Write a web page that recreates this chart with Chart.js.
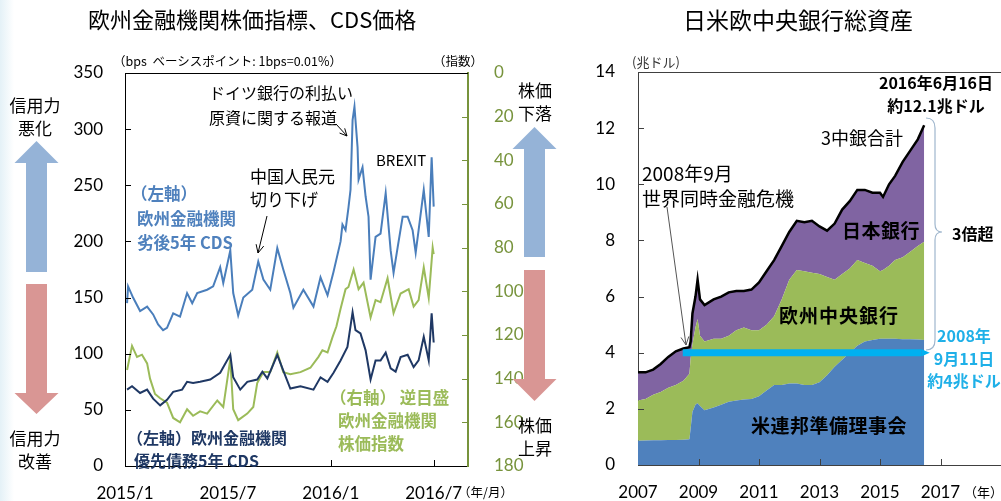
<!DOCTYPE html>
<html>
<head>
<meta charset="utf-8">
<script src="https://cdn.jsdelivr.net/npm/chart.js@4.4.1/dist/chart.umd.min.js"></script>
<style>
body { margin:0; background:#fff; width:1001px; height:501px; overflow:hidden; position:relative;
       font-family:"Noto Sans CJK JP", sans-serif; color:#000; }
canvas { position:absolute; top:0; }
#edge { position:absolute; left:0; top:0; width:14px; height:501px; background:linear-gradient(to right,#e4f1f7,#fff); }
.t { position:absolute; white-space:nowrap; line-height:1; }
.b { font-weight:bold; }
</style>
</head>
<body>
<div id="edge"></div>
<canvas id="left" width="570" height="501" style="left:0"></canvas>
<canvas id="right" width="431" height="501" style="left:570px"></canvas>

<!-- left panel texts -->
<div class="t" style="left:88px;top:7px;font-size:22px">欧州金融機関株価指標、CDS価格</div>
<div class="t" style="left:113px;top:55px;font-size:12.5px">（bps&nbsp; ベーシスポイント: 1bps=0.01%）</div>
<div class="t" style="left:433px;top:55px;font-size:12.5px">（指数）</div>
<div class="t" style="left:6px;top:93px;width:58px;text-align:center;font-size:17px;line-height:23px">信用力<br>悪化</div>
<div class="t" style="left:6px;top:426px;width:58px;text-align:center;font-size:17px;line-height:23px">信用力<br>改善</div>
<div class="t" style="left:506px;top:78px;width:58px;text-align:center;font-size:17px;line-height:23px">株価<br>下落</div>
<div class="t" style="left:506px;top:413px;width:58px;text-align:center;font-size:17px;line-height:23px">株価<br>上昇</div>
<div class="t" style="left:209px;top:80px;font-size:16px;line-height:25px">ドイツ銀行の利払い<br>原資に関する報道</div>
<div class="t" style="left:376px;top:152px;font-size:15px">BREXIT</div>
<div class="t" style="left:250px;top:164px;font-size:17px;line-height:23px">中国人民元<br>切り下げ</div>
<div class="t b" style="left:131px;top:181px;font-size:16.5px;line-height:24.5px;color:#4f81bd">（左軸）<br><span style="margin-left:6px">欧州金融機関</span><br><span style="margin-left:6px">劣後5年 CDS</span></div>
<div class="t b" style="left:330px;top:386px;font-size:16.5px;line-height:23px;color:#9bbb59">（右軸） 逆目盛<br><span style="margin-left:8px">欧州金融機関</span><br><span style="margin-left:8px">株価指数</span></div>
<div class="t b" style="left:127px;top:426px;font-size:16px;line-height:23px;color:#1f3864">（左軸）欧州金融機関<br><span style="margin-left:7px">優先債務5年 CDS</span></div>
<div class="t" style="left:458px;top:486px;font-size:12.5px">（年/月）</div>

<!-- right panel texts -->
<div class="t" style="left:683px;top:8px;font-size:23px">日米欧中央銀行総資産</div>
<div class="t" style="left:632px;top:55px;font-size:13px;color:#333">(兆ドル)</div>
<div class="t b" style="left:872px;top:71px;width:128px;text-align:center;font-size:16px;line-height:23px">2016年6月16日<br>約12.1兆ドル</div>
<div class="t" style="left:821px;top:128px;font-size:18px">3中銀合計</div>
<div class="t" style="left:642px;top:160px;font-size:19px;line-height:25px">2008年9月<br>世界同時金融危機</div>
<div class="t b" style="left:842px;top:220px;font-size:19px;letter-spacing:0.5px">日本銀行</div>
<div class="t b" style="left:779px;top:305px;font-size:19px;letter-spacing:1px">欧州中央銀行</div>
<div class="t b" style="left:751px;top:415px;font-size:19px;letter-spacing:0.5px">米連邦準備理事会</div>
<div class="t b" style="left:952px;top:225px;font-size:16px">3倍超</div>
<div class="t b" style="left:924px;top:324px;width:80px;text-align:center;font-size:16px;line-height:22.5px;color:#1fb0e8">2008年<br>9月11日<br>約4兆ドル</div>
<div class="t" style="left:964px;top:485px;font-size:13px">（年）</div>

<script>
// ---- left chart: x = months since 2015/1 ----
const leftTickMonths = [0, 6, 12, 18];
const leftTickLabels = ["2015/1", "2015/7", "2016/1", "2016/7"];

// (左軸) 劣後5年 CDS, bps
const subX = [0.12, 0.18, 0.47, 0.88, 1.29, 1.64, 1.93, 2.22, 2.45, 2.81, 3.21, 3.62, 3.92, 4.21, 4.79, 5.14, 5.55, 5.73, 6.14, 6.31,
              6.60, 6.90, 7.42, 7.77, 8.07, 8.47, 8.88, 9.23, 9.64, 9.82, 10.40, 10.99, 11.40, 11.81, 12.16, 12.57, 12.68, 12.86, 13.03, 13.15,
              13.27, 13.38, 13.56, 13.62, 13.85, 14.03, 14.20, 14.32, 14.61, 14.90, 15.20, 15.49, 15.66, 15.90, 16.19, 16.48, 16.77, 16.95, 17.12, 17.42,
              17.71, 17.88, 18.00];
const subY = [145, 160, 150, 138, 142, 135, 126, 121, 123, 136, 133, 154, 145, 154, 157, 160, 177, 163, 192, 154,
              134, 150, 157, 182, 166, 157, 194, 175, 154, 141, 157, 142, 168, 152, 173, 200, 215, 210, 230, 246,
              308, 320, 284, 255, 266, 240, 222, 166, 204, 207, 243, 192, 172, 195, 222, 222, 210, 190, 210, 246,
              204, 275, 231];

// (左軸) 優先債務5年 CDS, bps
const senX = [0.12, 0.41, 0.88, 1.29, 1.64, 2.05, 2.45, 2.81, 3.33, 3.62, 3.97, 4.38, 4.97, 5.55, 5.73, 6.14, 6.31, 6.72, 7.13, 7.71,
              8.01, 8.30, 8.88, 9.23, 9.64, 10.23, 10.99, 11.40, 11.81, 12.16, 12.57, 12.97, 13.27, 13.44, 13.73, 14.03, 14.32, 14.61, 14.90, 15.20,
              15.49, 15.78, 16.07, 16.48, 16.83, 17.12, 17.42, 17.71, 17.88, 18.00];
const senY = [68, 71, 65, 68, 60, 54, 59, 66, 68, 75, 74, 75, 77, 83, 88, 99, 79, 68, 75, 77,
              84, 78, 99, 85, 69, 71, 68, 79, 75, 83, 94, 106, 137, 121, 118, 103, 77, 94, 94, 101,
              87, 84, 97, 99, 88, 94, 115, 94, 136, 110];

// (右軸, 逆目盛) 欧州金融機関株価指数
const stockX = [0.12, 0.41, 0.70, 0.99, 1.29, 1.46, 1.75, 2.05, 2.45, 2.81, 3.21, 3.62, 3.97, 4.38, 4.79, 5.38, 5.73, 6.14, 6.31, 6.60,
                7.13, 7.48, 7.71, 8.07, 8.47, 8.88, 9.23, 9.64, 10.23, 10.81, 11.28, 11.51, 11.81, 12.10, 12.33, 12.57, 12.86, 13.03, 13.33, 13.62,
                13.91, 14.32, 14.61, 14.90, 15.31, 15.66, 16.07, 16.54, 16.83, 17.12, 17.42, 17.71, 17.94, 18.00];
const stockY = [136, 125, 130, 129, 133, 140, 147, 149, 151, 158, 160, 154, 157, 155, 156, 150, 153, 131, 154, 159,
                156, 153, 142, 137, 137, 128, 137, 138, 137, 135, 130, 127, 128, 121, 116, 108, 99, 98, 90, 99,
                96, 112, 104, 105, 94, 110, 101, 99, 107, 104, 89, 103, 80, 83];

// ---- right chart: 中央銀行総資産, 兆ドル ----
const years = [2007.0, 2007.25, 2007.5, 2007.75, 2008.0, 2008.25, 2008.5, 2008.7, 2008.74, 2008.8, 2008.9, 2008.97, 2009.05, 2009.2, 2009.5, 2009.75,
               2010.0, 2010.25, 2010.5, 2010.75, 2011.0, 2011.25, 2011.5, 2011.75, 2012.0, 2012.25, 2012.5, 2012.75, 2013.0, 2013.25, 2013.5, 2013.75,
               2014.0, 2014.25, 2014.5, 2014.75, 2015.0, 2015.1, 2015.3, 2015.5, 2015.75, 2016.0, 2016.25, 2016.46];
const fed = [0.86, 0.87, 0.88, 0.88, 0.89, 0.89, 0.90, 0.92, 1.30, 1.90, 2.15, 2.20, 2.10, 1.95, 2.05, 2.15,
             2.25, 2.30, 2.33, 2.35, 2.45, 2.65, 2.85, 2.85, 2.90, 2.90, 2.85, 2.85, 2.95, 3.20, 3.50, 3.75,
             4.00, 4.25, 4.40, 4.45, 4.50, 4.50, 4.50, 4.50, 4.48, 4.48, 4.47, 4.45];
const ecb = [1.44, 1.48, 1.62, 1.72, 1.86, 1.96, 2.10, 2.33, 2.50, 2.40, 2.75, 3.00, 2.50, 2.45, 2.45, 2.35,
             2.35, 2.50, 2.57, 2.45, 2.35, 2.35, 2.45, 3.05, 3.70, 4.05, 4.05, 4.00, 3.85, 3.50, 3.10, 3.05,
             3.00, 3.05, 2.80, 2.65, 2.40, 2.45, 2.60, 2.80, 2.92, 3.12, 3.33, 3.50];
const boj = [1.00, 0.95, 0.90, 1.00, 1.10, 1.20, 1.15, 0.95, 0.60, 1.10, 1.10, 1.40, 1.30, 1.30, 1.40, 1.50,
             1.55, 1.40, 1.30, 1.45, 1.70, 1.90, 2.00, 1.90, 1.70, 1.75, 1.75, 1.85, 1.70, 1.65, 2.00, 2.30,
             2.40, 2.50, 2.60, 2.60, 2.80, 2.60, 2.90, 3.00, 3.40, 3.60, 3.80, 4.15];
const rightTickYears = [2007, 2009, 2011, 2013, 2015, 2017];
// 2008年9月11日 約4兆ドル の水準線
const levelX = [2008.48, 2016.38];
const levelY = [4, 4];

function pts(xs, ys) { return xs.map((x, i) => ({ x: x, y: ys[i] })); }

const tickFont = { family: "Lato, 'Open Sans', sans-serif", size: 17 };

// inward tick marks + top border line
const frame = {
  id: "frame",
  afterDraw(chart, args, o) {
    const { ctx, chartArea: a } = chart;
    ctx.save();
    ctx.lineWidth = 1;
    ctx.strokeStyle = o.top;
    ctx.beginPath();
    ctx.moveTo(a.left, a.top + 0.5);
    ctx.lineTo(a.right, a.top + 0.5);
    ctx.stroke();
    o.ticks.forEach(t => {
      const s = chart.scales[t.id];
      ctx.strokeStyle = t.color;
      ctx.lineWidth = t.width || 1;
      s.ticks.forEach(tk => {
        const p = Math.round(s.getPixelForValue(tk.value)) + 0.5;
        ctx.beginPath();
        if (t.side === "bottom") {
          if (p < a.left + 2 || p > a.right - 2) return;
          ctx.moveTo(p, a.bottom); ctx.lineTo(p, a.bottom - t.len);
        } else if (t.side === "left") {
          if (p < a.top + 2 || p > a.bottom - 2) return;
          ctx.moveTo(a.left, p); ctx.lineTo(a.left + t.len, p);
        } else {
          if (p < a.top + 2 || p > a.bottom - 2) return;
          ctx.moveTo(a.right, p); ctx.lineTo(a.right - t.len, p);
        }
        ctx.stroke();
      });
    });
    ctx.restore();
  }
};

function blockArrow(ctx, cx, tipY, baseY, endY, color) {
  // tipY: arrow point, baseY: head base, endY: shaft end
  ctx.fillStyle = color;
  ctx.beginPath();
  ctx.moveTo(cx, tipY);
  ctx.lineTo(cx + 22, baseY);
  ctx.lineTo(cx + 10.5, baseY);
  ctx.lineTo(cx + 10.5, endY);
  ctx.lineTo(cx - 10.5, endY);
  ctx.lineTo(cx - 10.5, baseY);
  ctx.lineTo(cx - 22, baseY);
  ctx.closePath();
  ctx.fill();
}

function pointer(ctx, x1, y1, x2, y2, color, head) {
  ctx.strokeStyle = color;
  ctx.lineWidth = 1;
  ctx.beginPath();
  ctx.moveTo(x1, y1); ctx.lineTo(x2, y2); ctx.stroke();
  const ang = Math.atan2(y2 - y1, x2 - x1);
  ctx.beginPath();
  ctx.moveTo(x2 - head * Math.cos(ang - 0.45), y2 - head * Math.sin(ang - 0.45));
  ctx.lineTo(x2, y2);
  ctx.lineTo(x2 - head * Math.cos(ang + 0.45), y2 - head * Math.sin(ang + 0.45));
  ctx.stroke();
}

const leftDecor = {
  id: "leftDecor",
  afterDraw(chart) {
    const ctx = chart.ctx;
    ctx.save();
    blockArrow(ctx, 36.5, 141, 163, 272, "#95b3d7");
    blockArrow(ctx, 36.5, 414, 393, 284, "#d99694");
    blockArrow(ctx, 534.5, 127, 149, 257, "#95b3d7");
    blockArrow(ctx, 534.5, 401, 379, 270, "#d99694");
    pointer(ctx, 267, 216, 258, 253, "#000", 9);
    pointer(ctx, 336, 124, 347, 136, "#000", 8);
    ctx.restore();
  }
};

new Chart(document.getElementById("left"), {
  type: "line",
  data: {
    datasets: [
      { data: pts(subX, subY), yAxisID: "y", borderColor: "#4a7ebb", borderWidth: 2 },
      { data: pts(senX, senY), yAxisID: "y", borderColor: "#1f3864", borderWidth: 2 },
      { data: pts(stockX, stockY), yAxisID: "y2", borderColor: "#9bbb59", borderWidth: 2 }
    ]
  },
  options: {
    responsive: false,
    animation: false,
    devicePixelRatio: 1,
    layout: { padding: { top: 73, left: 0, right: 0, bottom: 0 } },
    elements: { point: { radius: 0 }, line: { tension: 0, fill: false } },
    plugins: {
      legend: { display: false },
      tooltip: { enabled: false },
      frame: {
        top: "#000",
        ticks: [
          { id: "x", side: "bottom", len: 6, color: "#000" },
          { id: "y", side: "left", len: 6, color: "#000" },
          { id: "y2", side: "right", len: 6, color: "#77933c" }
        ]
      }
    },
    scales: {
      x: {
        type: "linear", min: 0, max: 20,
        afterBuildTicks: s => { s.ticks = leftTickMonths.map(v => ({ value: v })); },
        afterFit: s => { s.height = 35; },
        grid: { display: false },
        border: { color: "#000" },
        ticks: { padding: 9, color: "#000", font: tickFont, maxRotation: 0, autoSkip: false,
                 callback: (v, i) => leftTickLabels[i] }
      },
      y: {
        position: "left", min: 0, max: 350,
        afterFit: s => { s.width = 125; },
        grid: { display: false },
        border: { color: "#000" },
        ticks: { stepSize: 50, padding: 14, color: "#000", font: tickFont }
      },
      y2: {
        position: "right", min: 0, max: 180, reverse: true,
        afterFit: s => { s.width = 102; },
        grid: { display: false },
        border: { color: "#77933c", width: 2 },
        ticks: { stepSize: 20, padding: 18, color: "#77933c", font: tickFont }
      }
    }
  },
  plugins: [frame, leftDecor]
});

// cumulative tops for the stacked areas
const fedTop = fed.slice();
const ecbTop = fed.map((v, i) => +(v + ecb[i]).toFixed(2));
const allTop = ecbTop.map((v, i) => +(v + boj[i]).toFixed(2));

const rightDecor = {
  id: "rightDecor",
  afterDraw(chart) {
    const ctx = chart.ctx;
    const xs = chart.scales.x, ys = chart.scales.y;
    ctx.save();
    // arrow head of the 4兆ドル line
    const xe = xs.getPixelForValue(levelX[1]);
    const ye = ys.getPixelForValue(levelY[1]);
    ctx.fillStyle = "#00b0f0";
    ctx.beginPath();
    ctx.moveTo(xe, ye - 3.5);
    ctx.lineTo(xe + 8, ye);
    ctx.lineTo(xe, ye + 3.5);
    ctx.closePath();
    ctx.fill();
    // brace
    ctx.strokeStyle = "#9fb6cd";
    ctx.lineWidth = 1.2;
    ctx.beginPath();
    ctx.moveTo(356, 118);
    ctx.quadraticCurveTo(365, 118, 365, 128);
    ctx.lineTo(365, 224);
    ctx.quadraticCurveTo(365, 232, 372, 232);
    ctx.quadraticCurveTo(365, 232, 365, 240);
    ctx.lineTo(365, 340);
    ctx.quadraticCurveTo(365, 350, 356, 350);
    ctx.stroke();
    // crisis pointer
    pointer(ctx, 97, 207, 116, 345, "#555", 9);
    ctx.restore();
  }
};

new Chart(document.getElementById("right"), {
  type: "line",
  data: {
    datasets: [
      { data: pts(levelX, levelY), borderColor: "#00b0f0", borderWidth: 7, fill: false },
      { data: pts(years, fedTop), borderWidth: 0, borderColor: "rgba(0,0,0,0)", backgroundColor: "#4f81bd", fill: "origin" },
      { data: pts(years, ecbTop), borderWidth: 0, borderColor: "rgba(0,0,0,0)", backgroundColor: "#9bbb59", fill: "-1" },
      { data: pts(years, allTop), borderWidth: 2.5, borderColor: "#000", backgroundColor: "#8064a2", fill: "-1" }
    ]
  },
  options: {
    responsive: false,
    animation: false,
    devicePixelRatio: 1,
    layout: { padding: { top: 72, left: 0, right: 0, bottom: 0 } },
    elements: { point: { radius: 0 }, line: { tension: 0 } },
    plugins: {
      legend: { display: false },
      tooltip: { enabled: false },
      filler: { drawTime: "beforeDatasetsDraw" },
      frame: {
        top: "#404040",
        ticks: [
          { id: "x", side: "bottom", len: 6, color: "#404040" },
          { id: "y", side: "left", len: 6, color: "#404040" }
        ]
      }
    },
    scales: {
      x: {
        type: "linear", min: 2007, max: 2019,
        afterBuildTicks: s => { s.ticks = rightTickYears.map(v => ({ value: v })); },
        afterFit: s => { s.height = 36; },
        grid: { display: false },
        border: { color: "#404040" },
        ticks: { padding: 9, color: "#000", font: tickFont, maxRotation: 0, autoSkip: false,
                 callback: v => String(v) }
      },
      y: {
        position: "left", min: 0, max: 14,
        afterFit: s => { s.width = 68; },
        grid: { display: false },
        border: { color: "#404040" },
        ticks: { stepSize: 2, padding: 15, color: "#000", font: tickFont }
      }
    }
  },
  plugins: [frame, rightDecor]
});
</script>
</body>
</html>
